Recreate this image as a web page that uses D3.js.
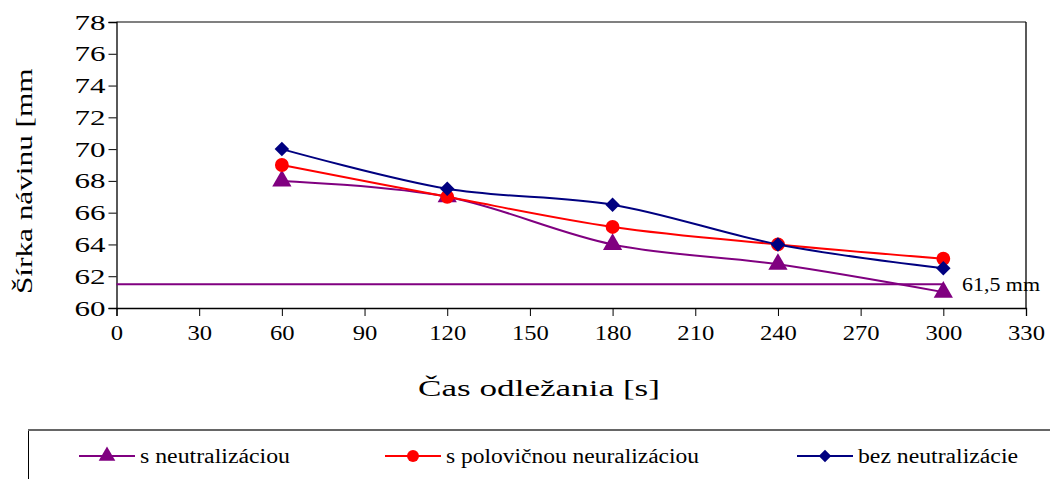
<!DOCTYPE html>
<html><head><meta charset="utf-8">
<script src="https://cdn.jsdelivr.net/npm/d3@7"></script>
<style>body{margin:0;background:#fff}svg{display:block}svg text{font-family:'Liberation Serif','Times New Roman',serif;fill:#000}</style>
</head><body>
<svg id="c" width="1050" height="479"></svg>
<script>
const times = [60, 120, 180, 240, 300];
const sNeutralizaciou = [68, 67, 64, 62.75, 61];
const sPolovicnou = [69, 67, 65.1, 64, 63.1];
const bezNeutralizacie = [70, 67.5, 66.5, 64, 62.5];
const limitTimes = [0, 300];
const limitValues = [61.5, 61.5];
const limitLabel = "61,5 mm";
const xTicks = [0, 30, 60, 90, 120, 150, 180, 210, 240, 270, 300, 330];
const yTicks = [60, 62, 64, 66, 68, 70, 72, 74, 76, 78];
const seriesNames = ["s neutralizáciou", "s polovičnou neuralizáciou", "bez neutralizácie"];
const xTitle = "Čas odležania [s]";
const yTitle = "Šírka návinu [mm]";

const FONT = "'Liberation Serif','Times New Roman',serif";
const svg = d3.select("#c");
const x = d3.scaleLinear().domain([0, 330]).range([116.5, 1026]);
const y = d3.scaleLinear().domain([60, 78]).range([308, 22]);

svg.append("line").attr("x1", x(0)).attr("x2", x(330)).attr("y1", y(78)).attr("y2", y(78))
  .attr("stroke", "#808080").attr("stroke-width", 2);
svg.append("line").attr("x1", x(330)).attr("x2", x(330)).attr("y1", y(78)).attr("y2", y(60))
  .attr("stroke", "#000").attr("stroke-width", 1.3);

const xAxis = svg.append("g").attr("transform", `translate(0,${y(60)})`)
  .call(d3.axisBottom(x).tickValues(xTicks).tickSize(8).tickPadding(9).tickFormat(d3.format("d")));
const yAxis = svg.append("g").attr("transform", `translate(${x(0)},0)`)
  .call(d3.axisLeft(y).tickValues(yTicks).tickSize(8).tickPadding(3).tickFormat(d3.format("d")));
[xAxis, yAxis].forEach(g => {
  g.attr("font-family", FONT);
  g.select(".domain").attr("stroke", "#000").attr("stroke-width", 1.3);
  g.selectAll(".tick line").attr("stroke", "#000").attr("stroke-width", 1);
  g.selectAll(".tick text").attr("fill", "#000");
});
xAxis.attr("font-size", 21);
xAxis.selectAll(".tick text").attr("textLength", d => String(d).length * 12.3).attr("lengthAdjust", "spacingAndGlyphs");
yAxis.attr("font-size", 22);
yAxis.selectAll(".tick text").attr("textLength", d => String(d).length * 15.5).attr("lengthAdjust", "spacingAndGlyphs");

svg.append("path").datum(limitTimes.map((t, i) => [t, limitValues[i]]))
  .attr("d", d3.line().x(d => x(d[0])).y(d => y(d[1])))
  .attr("fill", "none").attr("stroke", "#800080").attr("stroke-width", 2);
svg.append("text").attr("x", 962).attr("y", y(61.5)).attr("dy", "0.35em")
  .attr("font-family", FONT).attr("font-size", 19)
  .attr("textLength", 78).attr("lengthAdjust", "spacingAndGlyphs").text(limitLabel);

const series = [
  {vals: sNeutralizaciou, color: "#800080", shape: d3.symbolTriangle, size: 160, rot: 0},
  {vals: sPolovicnou, color: "#FF0000", shape: d3.symbolCircle, size: 150, rot: 0},
  {vals: bezNeutralizacie, color: "#000080", shape: d3.symbolSquare, size: 105, rot: 45}
];
const line = d3.line().x(d => x(d[0])).y(d => y(d[1])).curve(d3.curveCardinal.tension(0));
series.forEach(s => {
  const pts = times.map((t, i) => [t, s.vals[i]]);
  svg.append("path").datum(pts).attr("d", line).attr("fill", "none")
    .attr("stroke", s.color).attr("stroke-width", 2);
  svg.selectAll(null).data(pts).enter().append("path")
    .attr("transform", d => `translate(${x(d[0])},${y(d[1])}) rotate(${s.rot})`)
    .attr("d", d3.symbol().type(s.shape).size(s.size)).attr("fill", s.color);
});

svg.append("text").attr("x", 418).attr("y", 396)
  .attr("font-family", FONT).attr("font-size", 23)
  .attr("textLength", 242).attr("lengthAdjust", "spacingAndGlyphs").text(xTitle);
svg.append("clipPath").attr("id", "yclip").append("rect").attr("x", 0).attr("y", 69).attr("width", 60).attr("height", 300);
svg.append("g").attr("clip-path", "url(#yclip)")
  .append("text").attr("transform", "translate(32,294) rotate(-90)").attr("text-anchor", "start")
  .attr("font-family", FONT).attr("font-size", 24)
  .attr("textLength", 236).attr("lengthAdjust", "spacingAndGlyphs").text(yTitle);

svg.append("path").attr("d", "M28.5,479 V430 H1050").attr("fill", "none").attr("stroke", "#000").attr("stroke-width", 1);
svg.append("line").attr("x1", 28).attr("x2", 1050).attr("y1", 430).attr("y2", 430).attr("stroke", "#666").attr("stroke-width", 2);
const legX = [79, 385, 797];
const legW = [150, 253, 160];
series.forEach((s, i) => {
  const g = svg.append("g").attr("transform", `translate(${legX[i]},456)`);
  g.append("line").attr("x1", 0).attr("x2", 56).attr("stroke", s.color).attr("stroke-width", 2);
  g.append("path").attr("transform", `translate(28,0) rotate(${s.rot})`).attr("d", d3.symbol().type(s.shape).size(s.size * 0.75)).attr("fill", s.color);
  g.append("text").attr("x", 61).attr("dy", "0.35em").attr("font-family", FONT).attr("font-size", 20)
    .attr("textLength", legW[i]).attr("lengthAdjust", "spacingAndGlyphs").text(seriesNames[i]);
});
</script>
</body></html>
